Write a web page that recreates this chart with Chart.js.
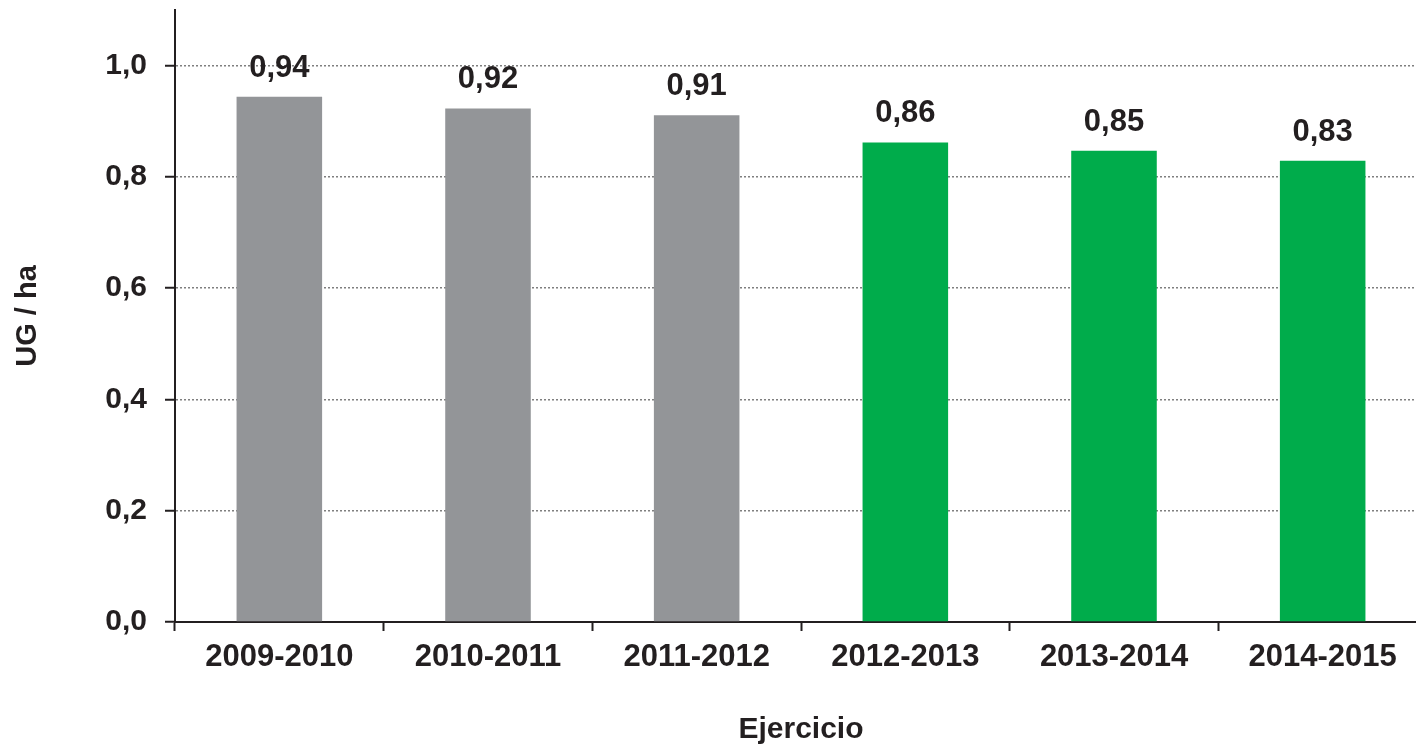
<!DOCTYPE html>
<html lang="es">
<head>
<meta charset="UTF-8">
<title>UG / ha por ejercicio</title>
<script src="https://cdn.jsdelivr.net/npm/chart.js"></script>
<style>
  body {
    margin: 0;
    padding: 0;
    overflow: hidden;
    background: #fff;
  }
  .chart-box {
    width: 1427px;
    height: 748px;
  }
</style>
</head>
<body>
<div class="chart-box">
  <canvas id="ug-chart"></canvas>
</div>
<script>
  // data
  const ejercicios = ['2009-2010', '2010-2011', '2011-2012', '2012-2013', '2013-2014', '2014-2015'];
  const ugHa = [0.944, 0.923, 0.911, 0.862, 0.847, 0.829];
  const barColors = ['#939598', '#939598', '#939598', '#00ac4b', '#00ac4b', '#00ac4b'];
  const yTicks = [0, 0.2, 0.4, 0.6, 0.8, 1.0];

  const ink = '#231f20';
  const fontFam = '"Liberation Sans", Arial, sans-serif';

  function fmt(v, d) {
    return v.toFixed(d).replace('.', ',');
  }

  // value labels above the bars
  const valueLabels = {
    id: 'valueLabels',
    afterDatasetsDraw(chart) {
      const ctx = chart.ctx;
      const meta = chart.getDatasetMeta(0);
      ctx.save();
      ctx.font = 'bold 31px ' + fontFam;
      ctx.fillStyle = ink;
      ctx.textAlign = 'center';
      ctx.textBaseline = 'alphabetic';
      meta.data.forEach(function(bar, i) {
        ctx.fillText(fmt(ugHa[i], 2), bar.x, bar.y - 20);
      });
      ctx.restore();
    }
  };

  var ctx = document.getElementById('ug-chart').getContext('2d');
  var chart = new Chart(ctx, {
    type: 'bar',
    data: {
      labels: ejercicios,
      datasets: [{
        data: ugHa,
        backgroundColor: barColors,
        borderWidth: 0,
        barPercentage: 0.41,
        categoryPercentage: 1.0
      }]
    },
    options: {
      responsive: true,
      maintainAspectRatio: false,
      animation: false,
      layout: { padding: { top: 10, left: 0, right: 0, bottom: 0 } },
      plugins: {
        legend: { display: false },
        tooltip: { enabled: false }
      },
      scales: {
        x: {
          afterFit: function(scale) {
            scale.height = 126;
            scale.paddingLeft = 0;
            scale.paddingRight = 0;
          },
          border: { color: ink, width: 2 },
          grid: {
            offset: true,
            drawOnChartArea: false,
            drawTicks: true,
            tickLength: 9,
            tickColor: ink,
            tickWidth: 2
          },
          ticks: {
            color: ink,
            padding: 8,
            font: { family: fontFam, size: 31, weight: 'bold' }
          },
          title: {
            display: true,
            text: 'Ejercicio',
            color: ink,
            padding: { top: 0, bottom: 0 },
            font: { family: fontFam, size: 30, weight: 'bold' }
          }
        },
        y: {
          min: 0,
          max: 1.1,
          afterFit: function(scale) {
            scale.width = 175;
            scale.paddingTop = 0;
            scale.paddingBottom = 0;
          },
          afterBuildTicks: function(scale) {
            scale.ticks = yTicks.map(function(v) { return { value: v }; });
          },
          border: { color: ink, width: 2, dash: [2, 2] },
          grid: {
            color: function(c) { return c.tick && c.tick.value === 0 ? 'rgba(0,0,0,0)' : '#7f7f7f'; },
            lineWidth: 1.5,
            drawTicks: true,
            tickLength: 10,
            tickColor: ink,
            tickWidth: 2,
            tickBorderDash: []
          },
          ticks: {
            color: ink,
            padding: 18,
            font: { family: fontFam, size: 30, weight: 'bold' },
            callback: function(v) { return fmt(v, 1); }
          },
          title: {
            display: true,
            text: 'UG / ha',
            color: ink,
            padding: { top: 11, bottom: 0 },
            font: { family: fontFam, size: 29, weight: 'bold' }
          }
        }
      }
    },
    plugins: [valueLabels]
  });
</script>
</body>
</html>
